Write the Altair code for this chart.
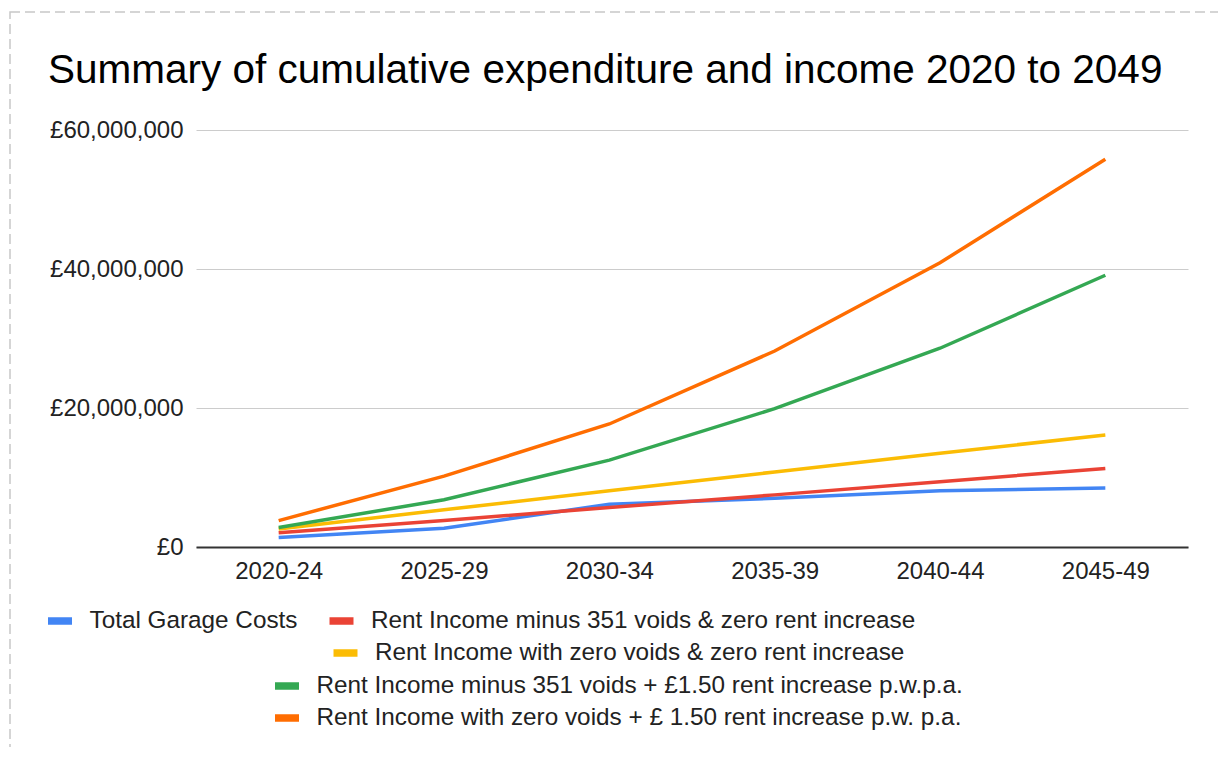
import altair as alt
import pandas as pd

TITLE = "Summary of cumulative expenditure and income 2020 to 2049"
periods = ["2020-24", "2025-29", "2030-34", "2035-39", "2040-44", "2045-49"]

series_names = [
    "Total Garage Costs",
    "Rent Income minus 351 voids & zero rent increase",
    "Rent Income with zero voids & zero rent increase",
    "Rent Income minus 351 voids + £1.50 rent increase p.w.p.a.",
    "Rent Income with zero voids + £ 1.50 rent increase p.w. p.a.",
]
total_garage_costs = [1350000, 2700000, 6150000, 7000000, 8100000, 8500000]
minus_voids_zero_increase = [2050000, 3800000, 5700000, 7500000, 9400000, 11300000]
zero_voids_zero_increase = [2600000, 5350000, 8100000, 10800000, 13500000, 16100000]
minus_voids_increase = [2800000, 6800000, 12500000, 19900000, 28600000, 39100000]
zero_voids_increase = [3800000, 10200000, 17700000, 28200000, 40900000, 55800000]
series_values = [
    total_garage_costs,
    minus_voids_zero_increase,
    zero_voids_zero_increase,
    minus_voids_increase,
    zero_voids_increase,
]
colors = ["#4285F4", "#EA4335", "#FBBC04", "#34A853", "#FF6D01"]
y_ticks = [0, 20000000, 40000000, 60000000]

# layout (pixels relative to plot origin)
legend_pos = [(-152, 475), (129.5, 475), (133.5, 507), (75, 540), (75, 572)]

FONT = "Liberation Sans"

rows = []
for name, vals in zip(series_names, series_values):
    for p, v in zip(periods, vals):
        rows.append({"period": p, "value": v, "series": name})
df = pd.DataFrame(rows)

x_enc = alt.X(
    "period:N",
    sort=periods,
    scale=alt.Scale(type="point", padding=0.5),
    axis=alt.Axis(
        title=None, labelAngle=0, ticks=False, tickSize=0, grid=False,
        domain=True, domainColor="#333333", domainWidth=2,
        labelFontSize=24, labelFont=FONT, labelColor="#222222", labelPadding=12,
    ),
)
y_enc = alt.Y(
    "value:Q",
    scale=alt.Scale(domain=[0, 60000000], nice=False),
    axis=alt.Axis(
        title=None, values=y_ticks, ticks=False, tickSize=0, domain=False,
        grid=True, gridColor="#cccccc", gridWidth=1,
        labelFontSize=24, labelFont=FONT, labelColor="#222222", labelPadding=13,
        labelExpr="'£' + format(datum.value, ',')",
    ),
)

layers = []
border = alt.Chart(pd.DataFrame({"a": [0]})).mark_rect(
    fillOpacity=0, stroke="#c8c8c8", strokeWidth=1.5, strokeDash=[10, 5]
).encode(
    x=alt.value(-186), x2=alt.value(1027), y=alt.value(-118), y2=alt.value(660)
)
layers.append(border)

for name, col, (lx, ly) in zip(series_names, colors, legend_pos):
    layer = alt.Chart(df).transform_filter(
        alt.datum.series == name
    ).mark_line(strokeWidth=3.5).encode(
        x=x_enc,
        y=y_enc,
        color=alt.Color(
            "series:N",
            scale=alt.Scale(domain=[name], range=[col]),
            legend=alt.Legend(
                title=None, orient="none", legendX=lx, legendY=ly,
                symbolType="stroke", symbolSize=576, symbolStrokeWidth=7.5,
                labelFontSize=24.3, labelFont=FONT, labelColor="#222222",
                labelOffset=13.5, labelLimit=1000, padding=0,
            ),
        ),
    )
    layers.append(layer)

title = alt.Chart(pd.DataFrame({"t": [TITLE]})).mark_text(
    align="left", baseline="alphabetic", fontSize=40.5, font=FONT, color="#000000"
).encode(text="t:N", x=alt.value(-148), y=alt.value(-47))
layers.append(title)

chart = alt.layer(*layers).resolve_scale(color="independent").properties(
    width=992,
    height=417,
    padding={"left": 188, "top": 122, "right": 30, "bottom": 200},
    autosize=alt.AutoSizeParams(type="none"),
    background="white",
).configure_view(stroke=None)

chart.save("out.html", embed_options={"renderer": "svg", "actions": False})
